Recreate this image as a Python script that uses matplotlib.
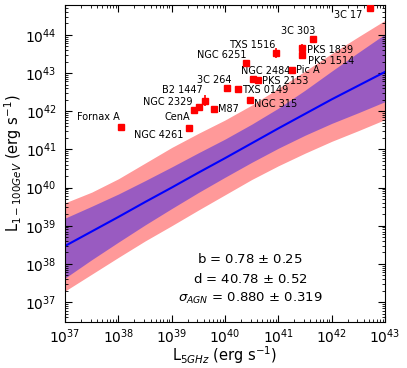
import numpy as np
import matplotlib
matplotlib.use("Agg")
import matplotlib.pyplot as plt

# sources: log10 L_5GHz, log10 L_1-100GeV, error on log L_gamma
names = ["3C 17", "3C 303", "PKS 1839", "PKS 1514", "TXS 1516", "NGC 6251",
         "Pic A", "NGC 2484", "PKS 2153", "3C 264", "TXS 0149", "NGC 315",
         "B2 1447", "M87", "NGC 2329", "CenA", "Fornax A", "NGC 4261"]
log_radio = [42.72, 41.64, 41.45, 41.44, 40.95, 40.40,
             41.26, 40.53, 40.61, 40.03, 40.24, 40.46,
             39.62, 39.79, 39.52, 39.42, 38.04, 39.32]
log_gamma = [44.70, 43.90, 43.66, 43.46, 43.53, 43.26,
             43.07, 42.84, 42.83, 42.62, 42.57, 42.30,
             42.28, 42.07, 42.11, 42.02, 41.59, 41.55]
log_gamma_err = [0.0, 0.05, 0.10, 0.0, 0.13, 0.0,
                 0.0, 0.03, 0.0, 0.0, 0.0, 0.0,
                 0.15, 0.0, 0.05, 0.0, 0.0, 0.05]

# fitted relation and its bands (log space)
band_x = [37.0, 37.5, 38.0, 38.5, 39.0, 39.5, 40.0, 40.5, 41.0, 41.5, 42.0, 42.5, 43.0]
fit_mid = [38.47, 38.85, 39.23, 39.62, 40.00, 40.39, 40.77, 41.16, 41.55, 41.93, 42.31, 42.67, 43.03]
inner_hi = [39.20, 39.51, 39.83, 40.18, 40.54, 40.91, 41.27, 41.66, 42.08, 42.55, 43.05, 43.54, 44.02]
inner_lo = [37.63, 38.11, 38.57, 39.02, 39.45, 39.87, 40.27, 40.66, 41.03, 41.37, 41.68, 41.96, 42.25]
outer_hi = [39.60, 39.88, 40.23, 40.64, 41.05, 41.42, 41.77, 42.16, 42.60, 43.05, 43.51, 43.95, 44.38]
outer_lo = [37.29, 37.73, 38.17, 38.60, 39.00, 39.41, 39.81, 40.21, 40.57, 40.90, 41.21, 41.49, 41.78]

fit_text = [r"b = 0.78 $\pm$ 0.25",
            r"d = 40.78 $\pm$ 0.52",
            r"$\sigma_{AGN}$ = 0.880 $\pm$ 0.319"]

# label offsets in pixels: (dx, dy, ha)
label_pos = {
    "3C 17": (-8, -7, "right"), "3C 303": (-14, 8, "center"),
    "PKS 1839": (5, -2, "left"), "PKS 1514": (6, -6, "left"),
    "TXS 1516": (0, 8, "right"), "NGC 6251": (0, 8, "right"),
    "Pic A": (4, 0, "left"), "NGC 2484": (12, 8, "center"),
    "PKS 2153": (4, -1, "left"), "3C 264": (-12, 8, "center"),
    "TXS 0149": (4, -1, "left"), "NGC 315": (4, -4, "left"),
    "B2 1447": (-2, 11, "right"), "M87": (4, 0, "left"),
    "NGC 2329": (-7, 5, "right"), "CenA": (-4, -7, "right"),
    "Fornax A": (-1, 10, "right"), "NGC 4261": (-5, -7, "right"),
}

fig = plt.figure(figsize=(4.07, 3.68), dpi=100)
ax = fig.add_axes([0.160, 0.125, 0.786, 0.861])

bx = 10 ** np.array(band_x)
ax.fill_between(bx, 10 ** np.array(outer_lo), 10 ** np.array(outer_hi),
                color="r", alpha=0.4, lw=0)
ax.fill_between(bx, 10 ** np.array(inner_lo), 10 ** np.array(inner_hi),
                color="b", alpha=0.4, lw=0)
ax.plot(bx, 10 ** np.array(fit_mid), color="b", lw=1.5)

xr = 10 ** np.array(log_radio)
yg = 10 ** np.array(log_gamma)
err = np.array(log_gamma_err)
yerr = [yg - 10 ** (np.array(log_gamma) - err), 10 ** (np.array(log_gamma) + err) - yg]
ax.errorbar(xr, yg, yerr=yerr, fmt="s", color="r", ms=5, mec="r",
            elinewidth=1.2, capsize=0, zorder=5)

for n, x, y in zip(names, xr, yg):
    dx, dy, ha = label_pos[n]
    ax.annotate(n, (x, y), xytext=(dx, dy), textcoords="offset pixels",
                ha=ha, va="center", fontsize=7)

for i, t in enumerate(fit_text):
    ax.text(0.578, 0.199 - 0.062 * i, t, transform=ax.transAxes,
            ha="center", va="center", fontsize=9.5)

ax.set_xscale("log")
ax.set_yscale("log")
ax.set_xlim(1e37, 1e43)
ax.set_ylim(3e36, 6e44)
ax.tick_params(which="both", direction="in", top=True, right=True, labelsize=10)
ax.tick_params(which="major", length=5)
ax.tick_params(which="minor", length=2.5)
ax.tick_params(axis="x", which="major", pad=4)
ax.tick_params(axis="y", which="major", pad=6)
ax.set_xlabel(r"L$_{5GHz}$ (erg s$^{-1}$)", fontsize=10.5, labelpad=-1)
ax.set_ylabel(r"L$_{1-100GeV}$ (erg s$^{-1}$)", fontsize=10.5, labelpad=1)

fig.savefig("out.png", dpi=100)
